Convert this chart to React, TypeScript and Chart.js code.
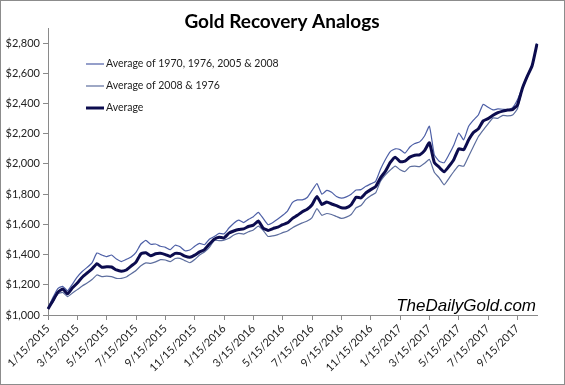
import React, { useEffect, useRef } from "react";
import { Chart, registerables } from "chart.js";

Chart.register(...registerables);

const TITLE = "Gold Recovery Analogs";
const WATERMARK = "TheDailyGold.com";

const TICK_LABELS = [
  "1/15/2015", "3/15/2015", "5/15/2015", "7/15/2015", "9/15/2015", "11/15/2015",
  "1/15/2016", "3/15/2016", "5/15/2016", "7/15/2016", "9/15/2016", "11/15/2016",
  "1/15/2017", "3/15/2017", "5/15/2017", "7/15/2017", "9/15/2017",
];
const POINTS_PER_TICK = 6;

const SERIES_NAMES = [
  "Average of 1970, 1976, 2005 & 2008",
  "Average of 2008 & 1976",
  "Average",
];

const UPPER = [
  1045, 1115, 1175, 1190, 1160, 1205, 1252, 1288, 1315, 1345,
  1410, 1397, 1386, 1397, 1370, 1354, 1368, 1384, 1415, 1470,
  1494, 1468, 1470, 1455, 1448, 1432, 1462, 1452, 1425, 1430,
  1455, 1474, 1465, 1502, 1520, 1540, 1537, 1576, 1608, 1628,
  1612, 1633, 1651, 1680, 1640, 1598, 1612, 1635, 1660, 1690,
  1745, 1762, 1762, 1778, 1825, 1870, 1800, 1825, 1812, 1784,
  1774, 1782, 1800, 1827, 1830, 1852, 1868, 1885, 1965, 2030,
  2082, 2100, 2095, 2072, 2112, 2135, 2146, 2185, 2250, 2060,
  2018, 2008, 2062, 2125, 2205, 2160, 2248, 2290, 2324, 2395,
  2375, 2358, 2364, 2362, 2358, 2372, 2425, 2505, 2585, 2655,
  2800,
];

const LOWER = [
  1040, 1085, 1140, 1150, 1122, 1145, 1168, 1192, 1212, 1235,
  1265, 1254, 1258, 1254, 1243, 1243, 1252, 1273, 1295, 1326,
  1345, 1342, 1352, 1366, 1364, 1353, 1374, 1375, 1360, 1346,
  1367, 1397, 1417, 1448, 1494, 1492, 1496, 1508, 1530, 1541,
  1536, 1551, 1563, 1588, 1560, 1520, 1524, 1532, 1545, 1556,
  1578, 1595, 1610, 1622, 1645, 1704, 1660, 1672, 1665, 1652,
  1640, 1648, 1665, 1710, 1725, 1765, 1790, 1808, 1886, 1928,
  1960, 1986, 1962, 1950, 1982, 1986, 1982, 2004, 2030, 1945,
  1908, 1862, 1905, 1950, 1990, 1985, 2050, 2115, 2180, 2224,
  2265, 2305, 2302, 2322, 2318, 2324, 2365, 2495, 2575, 2645,
  2790,
];

const AVERAGE = [
  1040, 1095, 1150, 1172, 1140, 1180, 1212, 1250, 1278, 1305,
  1340, 1316, 1320, 1318, 1298, 1290, 1298, 1324, 1350, 1405,
  1412, 1392, 1405, 1408, 1400, 1388, 1408, 1406, 1390, 1382,
  1396, 1418, 1433, 1470, 1502, 1515, 1510, 1542, 1556, 1566,
  1570, 1586, 1595, 1622, 1575, 1560, 1572, 1582, 1598, 1610,
  1640, 1660, 1684, 1700, 1730, 1785, 1732, 1748, 1735, 1724,
  1710, 1710, 1730, 1780, 1775, 1808, 1830, 1850, 1908, 1952,
  2010, 2045, 2015, 2018, 2045, 2058, 2060, 2088, 2140, 2010,
  1978, 1948, 1985, 2030, 2100, 2094, 2158, 2208, 2232, 2285,
  2300, 2322, 2340, 2350, 2357, 2360, 2390, 2500, 2580, 2650,
  2795,
];

const Y_MIN = 1000;
const Y_MAX = 2900;
const Y_STEP = 200;

const CATEGORIES = AVERAGE.map((_, i) =>
  i % POINTS_PER_TICK === 0 && i / POINTS_PER_TICK < TICK_LABELS.length
    ? TICK_LABELS[i / POINTS_PER_TICK]
    : ""
);

const COLORS = ["#4d5fa6", "#5d6e9e", "#0c0c4e"];
const WIDTHS = [1.2, 1.2, 3];

const overlayPlugin = {
  id: "overlay",
  afterDatasetsDraw(chart: any) {
    const ctx = chart.ctx;
    ctx.save();
    // title
    ctx.fillStyle = "#000";
    ctx.font = "bold 19px Lato, 'Open Sans', sans-serif";
    ctx.textAlign = "center";
    ctx.textBaseline = "alphabetic";
    ctx.fillText(TITLE, 282, 28);
    // legend
    const rows = [64, 86, 108];
    ctx.font = "10.5px Lato, 'Open Sans', sans-serif";
    ctx.textAlign = "left";
    ctx.textBaseline = "middle";
    chart.data.datasets.forEach((ds: any, i: number) => {
      const y = rows[i];
      ctx.strokeStyle = ds.borderColor;
      ctx.lineWidth = ds.borderWidth;
      ctx.beginPath();
      ctx.moveTo(86, y);
      ctx.lineTo(104, y);
      ctx.stroke();
      ctx.fillStyle = "#222";
      ctx.fillText(ds.label, 106, y);
    });
    // watermark
    ctx.fillStyle = "#000";
    ctx.font = "italic 17px 'Liberation Sans', Arial, sans-serif";
    ctx.textAlign = "right";
    ctx.textBaseline = "alphabetic";
    ctx.fillText(WATERMARK, 536, 311);
    ctx.restore();
  },
};

export default function App() {
  const ref = useRef<HTMLCanvasElement | null>(null);

  useEffect(() => {
    document.body.style.margin = "0";
    const canvas = ref.current;
    if (!canvas) return;
    const seriesValues = [UPPER, LOWER, AVERAGE];
    const chart = new Chart(canvas, {
      type: "line",
      data: {
        labels: CATEGORIES,
        datasets: SERIES_NAMES.map((name, i) => ({
          label: name,
          data: seriesValues[i],
          borderColor: COLORS[i],
          backgroundColor: COLORS[i],
          borderWidth: WIDTHS[i],
          pointRadius: 0,
          tension: 0.15,
          fill: false,
          order: i === 2 ? 0 : 1,
        })),
      },
      options: {
        animation: false,
        responsive: false,
        devicePixelRatio: 1,
        layout: { padding: { top: 28, right: 28, left: 0, bottom: 0 } },
        plugins: {
          legend: { display: false },
          title: { display: false },
          tooltip: { enabled: false },
        },
        scales: {
          x: {
            type: "category",
            offset: false,
            afterFit: (s: any) => {
              s.height = 70;
            },
            border: { display: true, color: "#8a8a8a", width: 1 },
            grid: {
              display: true,
              drawOnChartArea: false,
              drawTicks: true,
              tickLength: 5,
              color: "#8a8a8a",
            },
            ticks: {
              autoSkip: false,
              maxRotation: 45,
              minRotation: 45,
              padding: 2,
              color: "#222",
              font: { family: "Lato, 'Open Sans', sans-serif", size: 11 },
              callback: function (this: any, _v: any, index: number) {
                const l = CATEGORIES[index];
                return l ? l : null;
              },
            },
          },
          y: {
            type: "linear",
            min: Y_MIN,
            max: Y_MAX,
            afterFit: (s: any) => {
              s.width = 48;
            },
            afterBuildTicks: (s: any) => {
              s.ticks = s.ticks.filter((t: any) => (t.value - Y_MIN) % Y_STEP === 0);
            },
            border: { display: true, color: "#8a8a8a", width: 1 },
            grid: {
              display: true,
              drawOnChartArea: false,
              drawTicks: true,
              tickLength: 5,
              color: "#8a8a8a",
            },
            ticks: {
              stepSize: Y_STEP,
              padding: 3,
              color: "#222",
              font: { family: "Lato, 'Open Sans', sans-serif", size: 11 },
              callback: (v: any) => "$" + Number(v).toLocaleString("en-US"),
            },
          },
        },
      },
      plugins: [overlayPlugin],
    });
    return () => chart.destroy();
  }, []);

  return (
    <div style={{ position: "fixed", left: 0, top: 0, width: 565, height: 385, background: "#fff" }}>
      <canvas ref={ref} width={565} height={385} style={{ display: "block", width: 565, height: 385 }} />
      <div
        style={{
          position: "absolute",
          left: 0,
          top: 0,
          width: 565,
          height: 385,
          boxSizing: "border-box",
          border: "1px solid #8c8c8c",
          pointerEvents: "none",
        }}
      />
    </div>
  );
}
